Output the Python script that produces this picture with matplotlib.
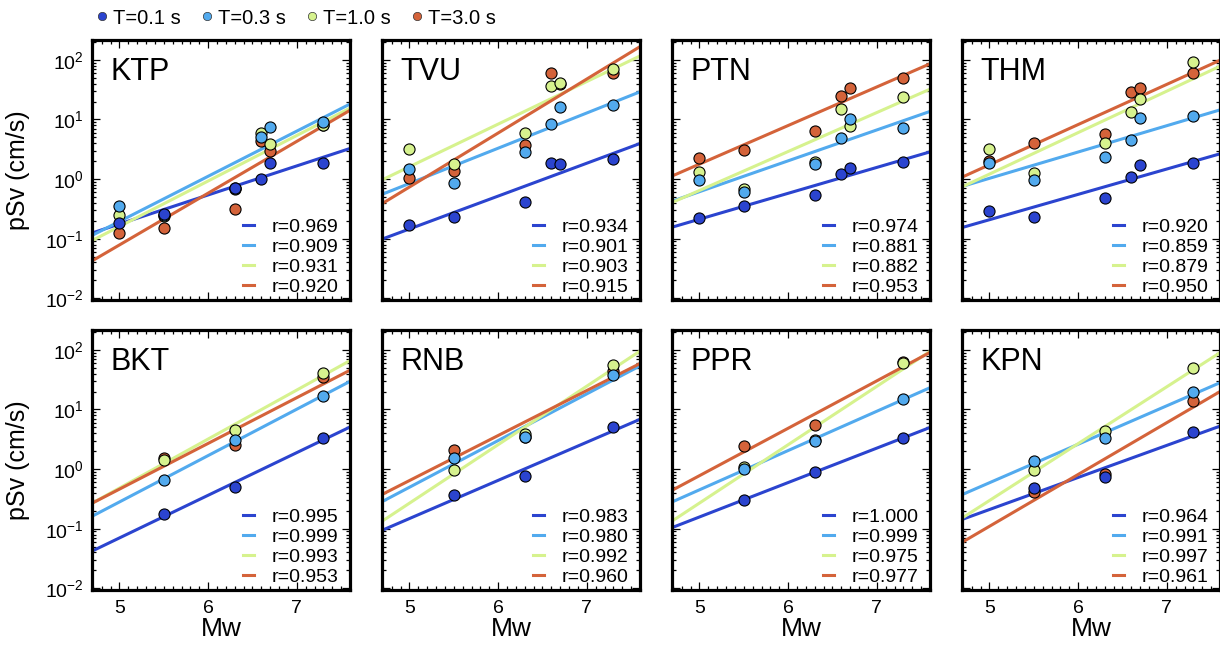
import numpy as np
import matplotlib.pyplot as plt
from matplotlib.lines import Line2D
from matplotlib.ticker import LogLocator, MultipleLocator, NullFormatter

plt.rcParams['font.family'] = ['Liberation Sans', 'DejaVu Sans']
plt.rcParams['mathtext.fontset'] = 'custom'
plt.rcParams['mathtext.rm'] = 'Liberation Sans'
plt.rcParams['mathtext.it'] = 'Liberation Sans:italic'
plt.rcParams['mathtext.bf'] = 'Liberation Sans:bold'

# datas
periods = ['T=0.1 s', 'T=0.3 s', 'T=1.0 s', 'T=3.0 s']
colors = ['#2b44cf', '#52aaee', '#d6f28e', '#d4633a']

mw_top = [5.0, 5.5, 6.3, 6.6, 6.7, 7.3]
mw_bottom = [5.5, 6.3, 7.3]

stations = ['KTP', 'TVU', 'PTN', 'THM', 'BKT', 'RNB', 'PPR', 'KPN']

# pSv (cm/s), rows: T=0.1, 0.3, 1.0, 3.0 s
psv_ktp = [[0.187, 0.265, 0.70, 1.0, 1.88, 1.88],
           [0.35, 0.25, 0.72, 5.1, 7.5, 9.2],
           [0.25, 0.24, 0.68, 6.0, 3.83, 8.1],
           [0.127, 0.154, 0.317, 4.35, 2.95, 8.0]]
psv_tvu = [[0.169, 0.233, 0.416, 1.88, 1.76, 2.14],
           [1.47, 0.87, 2.8, 8.4, 16.4, 17.5],
           [3.19, 1.76, 5.9, 36.5, 40.5, 69.6],
           [1.05, 1.38, 3.73, 61.0, 40.0, 61.0]]
psv_ptn = [[0.224, 0.348, 0.55, 1.2, 1.51, 1.95],
           [0.95, 0.61, 1.81, 4.8, 10.0, 7.3],
           [1.31, 0.68, 1.95, 15.0, 7.8, 24.2],
           [2.28, 3.11, 6.4, 25.2, 34.3, 50.5]]
psv_thm = [[0.294, 0.233, 0.49, 1.07, 1.70, 1.88],
           [1.83, 0.95, 2.34, 4.47, 10.5, 11.6],
           [3.19, 1.28, 4.08, 13.4, 22.1, 91.0],
           [2.0, 3.97, 5.7, 29.0, 33.8, 61.0]]
psv_bkt = [[0.175, 0.508, 3.33],
           [0.66, 3.12, 16.7],
           [1.41, 4.47, 41.4],
           [1.56, 2.51, 35.0]]
psv_rnb = [[0.364, 0.755, 5.0],
           [1.52, 3.5, 37.3],
           [0.97, 3.83, 54.8],
           [2.1, 3.5, 45.0]]
psv_ppr = [[0.304, 0.90, 3.33],
           [1.0, 3.0, 15.2],
           [1.1, 3.05, 60.0],
           [2.45, 5.5, 63.0]]
psv_kpn = [[0.476, 0.735, 4.25],
           [1.39, 3.33, 19.7],
           [0.98, 4.36, 50.0],
           [0.41, 0.84, 14.1]]

r_ktp = [0.969, 0.909, 0.931, 0.920]
r_tvu = [0.934, 0.901, 0.903, 0.915]
r_ptn = [0.974, 0.881, 0.882, 0.953]
r_thm = [0.920, 0.859, 0.879, 0.950]
r_bkt = [0.995, 0.999, 0.993, 0.953]
r_rnb = [0.983, 0.980, 0.992, 0.960]
r_ppr = [1.000, 0.999, 0.975, 0.977]
r_kpn = [0.964, 0.991, 0.997, 0.961]

psv_all = [psv_ktp, psv_tvu, psv_ptn, psv_thm, psv_bkt, psv_rnb, psv_ppr, psv_kpn]
r_all = [r_ktp, r_tvu, r_ptn, r_thm, r_bkt, r_rnb, r_ppr, r_kpn]

# layout (pixels)
W, H = 1220, 648
lefts = [92, 382, 672, 962]
tops = [40, 330]
aw, ah = 258, 260
xlim = (4.69, 7.60)
ylim = (0.0094, 215)

fig = plt.figure(figsize=(W / 100, H / 100), dpi=100)

for i, name in enumerate(stations):
    row, col = divmod(i, 4)
    ax = fig.add_axes([lefts[col] / W, 1 - (tops[row] + ah) / H, aw / W, ah / H])
    mw = np.array(mw_top if row == 0 else mw_bottom)
    psv = psv_all[i]

    # regression lines in log space
    xs = np.linspace(xlim[0], xlim[1], 50)
    handles = []
    for k in range(4):
        a, b = np.polyfit(mw, np.log10(psv[k]), 1)
        ln, = ax.plot(xs, 10 ** (a * xs + b), color=colors[k], lw=2.2, zorder=2)
        handles.append(ln)
    # points, long period first so T=0.1 s is on top
    for k in reversed(range(4)):
        ax.plot(mw, psv[k], 'o', ms=8, mfc=colors[k], mec='black', mew=0.8, zorder=3 + (3 - k))

    ax.set_yscale('log')
    ax.set_xlim(xlim)
    ax.set_ylim(ylim)
    ax.xaxis.set_major_locator(MultipleLocator(1))
    ax.xaxis.set_minor_locator(MultipleLocator(0.1))
    ax.yaxis.set_major_locator(LogLocator(base=10, numticks=10))
    ax.yaxis.set_minor_locator(LogLocator(base=10, subs=np.arange(2, 10), numticks=20))
    ax.yaxis.set_minor_formatter(NullFormatter())
    ax.tick_params(which='both', direction='in', top=True, right=True, labelsize=14, width=0.9)
    ax.tick_params(which='major', length=5.5)
    ax.tick_params(which='minor', length=2.8)
    ax.tick_params(axis='y', pad=6)
    ax.tick_params(axis='x', pad=7)
    for s in ax.spines.values():
        s.set_linewidth(2.3)

    if row == 0:
        ax.tick_params(labelbottom=False)
    else:
        ax.set_xlabel('Mw', fontsize=19, labelpad=0)
    if col == 0:
        ax.set_ylabel('pSv (cm/s)', fontsize=18, labelpad=11)
    else:
        ax.tick_params(labelleft=False)

    ax.text(0.07, 0.935, name, transform=ax.transAxes, fontsize=22, ha='left', va='top')

    labels = ['r=%.3f' % r for r in r_all[i]]
    ax.legend(handles, labels, loc='lower right', bbox_to_anchor=(0.955, 0.015), frameon=False,
              fontsize=14, handlelength=0.55, handletextpad=0.9, labelspacing=0.13,
              borderpad=0, borderaxespad=0)

# period legend on top
marks = [Line2D([], [], ls='none', marker='o', ms=6, mfc=c, mec='#333333', mew=0.5) for c in colors]
fig.legend(marks, periods, loc='center left', bbox_to_anchor=(97 / W, 1 - 18 / H), ncol=4,
           frameon=False, fontsize=14.5, handlelength=0.5, handletextpad=0.3, columnspacing=1.05,
           borderpad=0, borderaxespad=0)

plt.savefig('out.png', dpi=100)
